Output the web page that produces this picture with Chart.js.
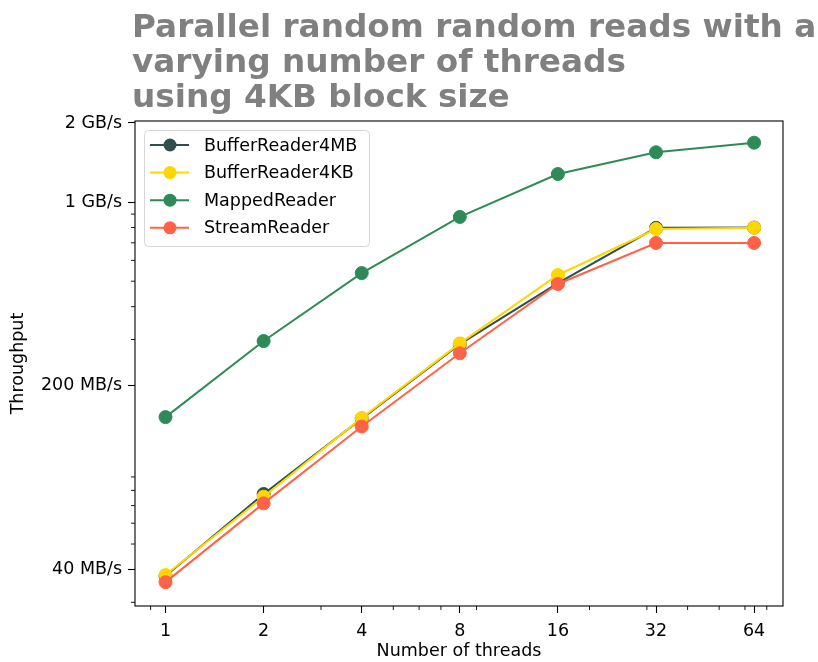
<!DOCTYPE html>
<html>
<head>
<meta charset="utf-8">
<script src="https://cdn.jsdelivr.net/npm/chart.js@4.4.1/dist/chart.umd.min.js"></script>
<style>
  html, body { margin: 0; padding: 0; background: #fff; }
  #wrap { width: 818px; height: 662px; position: relative; }
</style>
</head>
<body>
<div id="wrap"><canvas id="chart" width="818" height="662"></canvas></div>
<script>
'use strict';

// ===== DATA (throughput in MB/s) =====
const threads = [1, 2, 4, 8, 16, 32, 64];
const bufferReader4MB = [37.8, 77.5, 150, 288, 492, 798, 800];
const bufferReader4KB = [38.1, 75.7, 151, 290, 528, 790, 799];
const mappedReader = [152, 296, 537, 878, 1279, 1547, 1683];
const streamReader = [35.8, 71.4, 140, 266, 488, 699, 699];

const seriesNames = ['BufferReader4MB', 'BufferReader4KB', 'MappedReader', 'StreamReader'];
const seriesValues = [bufferReader4MB, bufferReader4KB, mappedReader, streamReader];
const seriesColors = ['#2F4F4F', '#FFD700', '#2E8B57', '#FF6347'];

const yTickValues = [40, 200, 1000, 2000];
const yTickLabels = ['40 MB/s', '200 MB/s', '1 GB/s', '2 GB/s'];
const yMinorValues = [30, 50, 60, 70, 80, 90, 300, 400, 500, 600, 700, 800, 900];
const xMinorValues = [0.9, 3, 5, 6, 7, 9, 20, 30, 40, 50, 60, 70];

const titleLines = ['Parallel random random reads with a', 'varying number of threads', 'using 4KB block size'];

Chart.defaults.font.family = '"DejaVu Sans", sans-serif';
Chart.defaults.font.size = 17.5;
Chart.defaults.color = '#000';

// Title, spines, minor ticks and the in-plot legend
const extras = {
  id: 'extras',
  afterDraw(chart) {
    const { ctx, chartArea: a, scales } = chart;
    ctx.save();

    // title
    ctx.fillStyle = 'gray';
    ctx.font = 'bold 32.7px "DejaVu Sans"';
    ctx.textAlign = 'left';
    ctx.textBaseline = 'alphabetic';
    titleLines.forEach((t, i) => ctx.fillText(t, a.left - 3, 37 + i * 35));

    // spines
    ctx.strokeStyle = '#000';
    ctx.lineWidth = 1.1;
    ctx.strokeRect(a.left, a.top, a.right - a.left, a.bottom - a.top);

    // minor ticks
    ctx.beginPath();
    yMinorValues.forEach(v => {
      const y = scales.y.getPixelForValue(v);
      if (y < a.top || y > a.bottom) return;
      ctx.moveTo(a.left, y);
      ctx.lineTo(a.left - 4, y);
    });
    xMinorValues.forEach(v => {
      const x = scales.x.getPixelForValue(v);
      if (x < a.left || x > a.right) return;
      ctx.moveTo(x, a.bottom);
      ctx.lineTo(x, a.bottom + 4);
    });
    ctx.lineWidth = 0.9;
    ctx.stroke();

    // legend
    const bx = a.left + 9, by = a.top + 9, bw = 225, bh = 116;
    ctx.beginPath();
    ctx.roundRect(bx + 0.5, by + 0.5, bw, bh, 4);
    ctx.fillStyle = 'rgba(255,255,255,0.8)';
    ctx.fill();
    ctx.strokeStyle = '#d6d6d6';
    ctx.lineWidth = 1;
    ctx.stroke();

    ctx.font = '17.5px "DejaVu Sans"';
    ctx.textBaseline = 'middle';
    seriesNames.forEach((name, i) => {
      const y = by + 15 + i * 27.6;
      ctx.strokeStyle = seriesColors[i];
      ctx.lineWidth = 2;
      ctx.beginPath();
      ctx.moveTo(bx + 6, y);
      ctx.lineTo(bx + 45, y);
      ctx.stroke();
      ctx.fillStyle = seriesColors[i];
      ctx.beginPath();
      ctx.arc(bx + 26, y, 6.5, 0, Math.PI * 2);
      ctx.fill();
      ctx.fillStyle = '#000';
      ctx.fillText(name, bx + 60, y + 1);
    });

    ctx.restore();
  }
};

new Chart(document.getElementById('chart'), {
  type: 'line',
  data: {
    datasets: seriesNames.map((name, i) => ({
      label: name,
      data: threads.map((t, j) => ({ x: t, y: seriesValues[i][j] })),
      borderColor: seriesColors[i],
      backgroundColor: seriesColors[i],
      pointBackgroundColor: seriesColors[i],
      pointBorderColor: seriesColors[i],
      pointRadius: 6.5,
      pointBorderWidth: 1,
      borderWidth: 2,
      fill: false,
      tension: 0,
      order: seriesNames.length - i
    }))
  },
  options: {
    responsive: false,
    animation: false,
    layout: { padding: { top: 121, right: 35, left: 0, bottom: 0 } },
    plugins: {
      legend: { display: false },
      tooltip: { enabled: false },
      title: { display: false }
    },
    scales: {
      x: {
        type: 'logarithmic',
        min: 0.806,
        max: 78.5,
        afterBuildTicks: s => { s.ticks = threads.map(v => ({ value: v })); },
        afterFit: s => { s.height = 56; },
        ticks: {
          autoSkip: false,
          maxRotation: 0,
          padding: 8,
          color: '#000',
          callback: v => String(v)
        },
        grid: { drawOnChartArea: false, drawTicks: true, tickLength: 7, tickColor: '#000', tickWidth: 1.1 },
        border: { display: false },
        title: { display: true, text: 'Number of threads', color: '#000', padding: { top: 0, bottom: 0 } }
      },
      y: {
        type: 'logarithmic',
        min: 29.05,
        max: 2035,
        afterBuildTicks: s => { s.ticks = yTickValues.map(v => ({ value: v })); },
        afterFit: s => { s.width = 135; },
        ticks: {
          autoSkip: false,
          padding: 6,
          color: '#000',
          callback: v => yTickLabels[yTickValues.indexOf(v)]
        },
        grid: { drawOnChartArea: false, drawTicks: true, tickLength: 7, tickColor: '#000', tickWidth: 1.1 },
        border: { display: false },
        title: { display: true, text: 'Throughput', color: '#000', padding: { top: 8, bottom: 0 } }
      }
    }
  },
  plugins: [extras]
});
</script>
</body>
</html>
